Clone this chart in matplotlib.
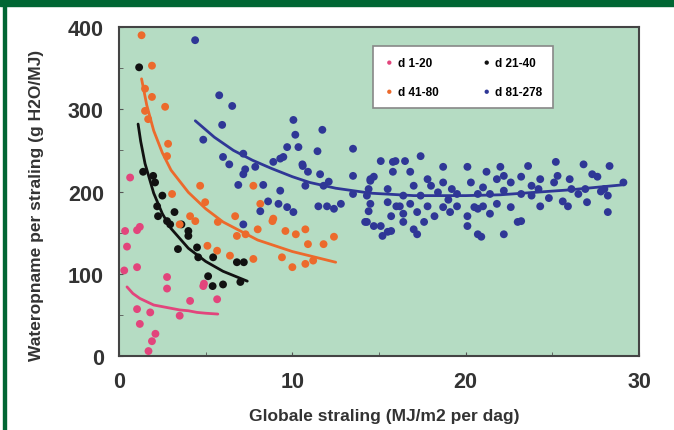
import matplotlib.pyplot as plt
from matplotlib.patches import Rectangle

# d 1-20
pink_x = [0.64, 0.35, 0.46, 0.3, 1.04, 1.2, 1.04, 2.77, 2.77, 4.86, 5.66, 4.1, 3.5, 1.04, 1.8, 1.2, 2.1, 1.9, 1.7, 4.9]
pink_y = [217, 152, 133, 104, 153, 157, 108, 96, 82, 85, 69, 67, 49, 57, 53, 39, 27, 18, 6, 88]
pink_fit_x = [0.46, 0.8, 1.2, 1.6, 2.0, 2.5, 3.0, 3.5, 4.0, 4.5, 5.0, 5.7]
pink_fit_y = [84, 76, 70, 66, 62, 60, 58, 56, 55, 53, 52, 51]

# d 21-40
black_x = [1.16, 1.39, 1.97, 2.08, 2.2, 2.25, 2.77, 2.95, 4.0, 4.0, 3.4, 4.5, 4.57, 5.43, 5.14,
           5.4, 6.0, 6.8, 7.2, 7.0, 2.5, 3.2, 3.6]
black_y = [351, 224, 219, 211, 182, 170, 164, 160, 152, 146, 130, 132, 120, 120, 97,
           85, 87, 114, 114, 90, 195, 175, 160]
black_fit_x = [1.1, 1.25, 1.5, 2.0, 2.5, 3.0, 4.0, 5.0, 6.0, 7.4]
black_fit_y = [282, 261, 234, 198, 173, 155, 131, 115, 103, 91]

# d 41-80
orange_x = [1.3, 1.9, 1.5, 1.9, 2.66, 1.5, 1.68, 2.83, 2.77, 4.68, 3.06, 4.97, 4.1, 4.4, 5.7,
            6.7, 6.8, 5.1, 5.66, 6.4, 7.75, 8.85, 8.0, 8.9, 9.6, 10.2, 10.75, 10.9, 11.8, 12.4,
            9.4, 10.0, 10.75, 11.2, 7.75, 8.15, 7.3, 3.5]
orange_y = [390, 353, 325, 315, 303, 298, 288, 258, 243, 207, 197, 187, 170, 164, 163,
            170, 146, 134, 128, 122, 118, 164, 154, 167, 152, 148, 154, 136, 136, 145,
            120, 108, 112, 116, 207, 185, 148, 160]
orange_fit_x = [1.3, 1.6, 2.0, 2.5, 3.0, 4.0, 5.0, 6.0, 8.0, 10.0, 12.5]
orange_fit_y = [337, 305, 274, 247, 226, 199, 179, 163, 141, 127, 114]

# d 81-278
blue_x = [4.39, 5.78, 6.53, 5.95, 4.86, 6.0, 6.36, 7.17, 7.28, 7.17, 7.86, 6.88, 8.32, 9.3, 8.6,
          9.2, 8.15, 9.7, 10.06, 7.17, 10.06, 10.17, 10.35, 9.7, 9.48, 8.9, 10.58, 10.9, 11.73, 11.45,
          11.6, 10.75, 11.8, 12.1, 11.5, 12.0, 12.4, 12.8, 13.5, 13.5, 13.5, 14.4, 14.5, 14.7, 14.3,
          14.4, 14.2, 14.7, 15.1, 15.2, 15.7, 15.7, 15.8, 15.8, 16.0, 9.3, 10.6, 15.95, 16.5, 17.4,
          18.7, 20.1, 21.2, 22.0, 23.6, 25.2, 26.8, 28.3, 27.3, 27.6, 29.1, 14.5, 16.8, 17.8, 17.0,
          18.0, 18.7, 19.2, 20.3, 21.0, 21.8, 22.2, 22.6, 23.2, 23.8, 24.3, 25.1, 25.3, 24.2, 26.1,
          26.5, 26.9, 28.0, 28.2, 15.5, 16.4, 17.4, 18.4, 19.5, 20.7, 21.4, 22.2, 23.2, 23.8, 14.5,
          15.5, 16.2, 16.8, 17.8, 18.7, 19.5, 20.5, 21.0, 21.8, 22.6, 24.3, 25.9, 27.0, 28.2, 16.4,
          17.2, 18.2, 19.1, 20.1, 20.7, 21.4, 14.3, 15.1, 15.5, 16.4, 17.0, 17.6, 17.2, 20.1, 20.7,
          20.9, 22.2, 23.0, 23.2, 19.0, 24.8, 26.0, 27.8, 25.6]
blue_y = [384, 317, 304, 281, 263, 242, 233, 246, 227, 221, 230, 208, 208, 201, 188,
          185, 176, 181, 175, 160, 287, 269, 254, 254, 242, 236, 233, 224, 275, 249,
          221, 207, 207, 212, 182, 182, 179, 185, 252, 219, 197, 203, 213, 218, 195,
          176, 163, 158, 237, 146, 170, 152, 236, 224, 182, 240, 231, 237, 237, 243,
          230, 230, 224, 230, 231, 236, 233, 231, 221, 218, 211, 215, 224, 215, 207,
          207, 211, 203, 211, 205, 215, 219, 211, 218, 207, 215, 211, 219, 203, 203,
          197, 203, 203, 195, 203, 195, 195, 199, 197, 197, 197, 201, 197, 195, 185,
          187, 182, 185, 182, 181, 182, 181, 182, 185, 181, 182, 182, 187, 175, 173,
          175, 170, 175, 170, 179, 173, 163, 158, 151, 163, 154, 163, 148, 158, 148,
          145, 148, 163, 164, 190, 192, 215, 200, 188]
blue_fit_x = [4.4, 5.5, 6.6, 7.7, 8.8, 10, 11, 12.5, 14.5, 17, 20, 22, 24, 26, 28, 29]
blue_fit_y = [286, 266, 250, 238, 228, 218, 211, 204, 198, 195, 195, 196, 199, 202, 206, 208]

labels = ['d 1-20', 'd 21-40', 'd 41-80', 'd 81-278']
colors = ['#e2457c', '#111111', '#ec6a2c', '#2f3796']


def main():
    fig = plt.figure(figsize=(6.74, 4.31), dpi=100)
    plt.rcParams['font.family'] = ['Liberation Sans', 'DejaVu Sans']

    # green page border and banner of the screenshot
    fig.patches.append(Rectangle((0, 0.983), 1, 0.017, transform=fig.transFigure, color='#006633'))
    fig.patches.append(Rectangle((0.004, 0), 0.005, 1, transform=fig.transFigure, color='#006633'))

    ax = fig.add_axes([0.1766, 0.1717, 0.7715, 0.7633])
    ax.set_facecolor('#b5dcc3')

    series = [(pink_x, pink_y, pink_fit_x, pink_fit_y),
              (black_x, black_y, black_fit_x, black_fit_y),
              (orange_x, orange_y, orange_fit_x, orange_fit_y),
              (blue_x, blue_y, blue_fit_x, blue_fit_y)]

    handles = []
    for (sx, sy, fx, fy), lab, col in zip(series, labels, colors):
        h = ax.scatter(sx, sy, s=32, color=col, edgecolors='none', label=lab, zorder=3)
        ax.plot(fx, fy, color=col, lw=2.0, zorder=4, solid_capstyle='round')
        handles.append(h)

    ax.set_xlim(0, 30)
    ax.set_ylim(0, 400)
    ax.set_xticks([0, 10, 20, 30])
    ax.set_yticks([0, 100, 200, 300, 400])
    ax.set_xticks([5, 15, 25], minor=True)
    ax.set_yticks([50, 150, 250, 350], minor=True)
    ax.tick_params(which='both', direction='in', length=3, color='#555555')
    ax.tick_params(which='major', labelsize=15.5, pad=11)
    for t in ax.get_xticklabels() + ax.get_yticklabels():
        t.set_fontweight('bold')
        t.set_color('#333333')
    for s in ax.spines.values():
        s.set_color('#444444')
        s.set_linewidth(1.5)

    ax.set_xlabel('Globale straling (MJ/m2 per dag)', fontsize=12.5, fontweight='bold', color='#333333')
    ax.set_ylabel('Wateropname per straling (g H2O/MJ)', fontsize=12.5, fontweight='bold', color='#333333')
    ax.xaxis.set_label_coords(0.51, -0.158)
    ax.yaxis.set_label_coords(-0.145, 0.46)

    # legend fills column by column
    order = [0, 2, 1, 3]
    leg = ax.legend([handles[i] for i in order], [labels[i] for i in order], ncol=2,
                    loc='upper left', bbox_to_anchor=(0.488, 0.942), borderaxespad=0,
                    fancybox=False, framealpha=1, edgecolor='#888888', markerscale=0.55,
                    handlelength=1.0, handletextpad=0.2, columnspacing=3.6, labelspacing=1.45,
                    borderpad=0.9, prop={'size': 8.5, 'weight': 'bold'})
    leg.get_frame().set_linewidth(1.2)

    fig.savefig('out.png', dpi=100)


if __name__ == "__main__":
    main()
